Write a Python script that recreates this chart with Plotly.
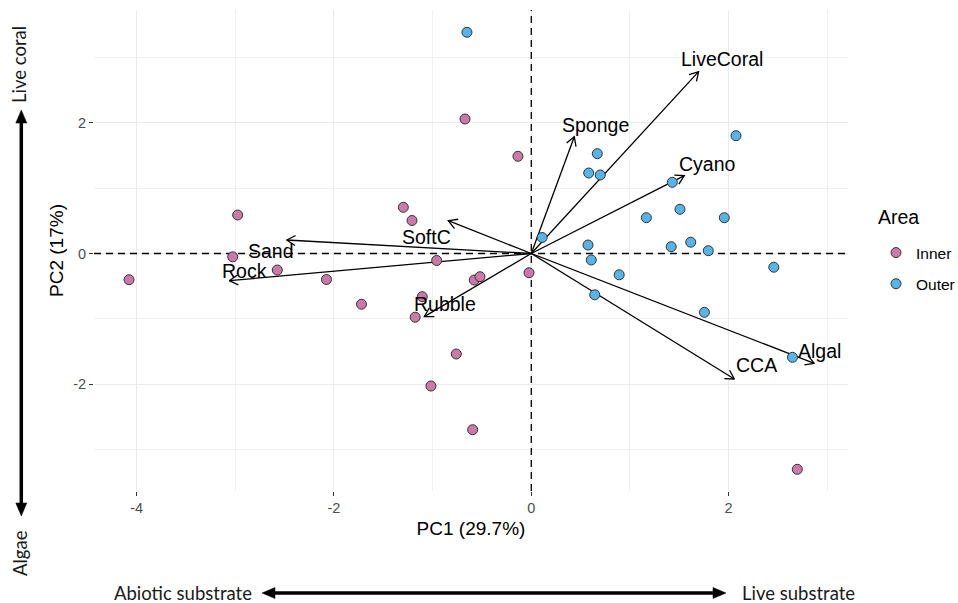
import numpy as np
import plotly.graph_objects as go

# PCA site scores by reef area
inner_pc1 = [-0.672, -0.135, -1.297, -1.209, -2.976, -3.026, -2.574, -4.077, -2.076, -1.721,
             -0.959, -0.578, -0.520, -0.023, -1.105, -1.177, -0.760, -1.017, -0.594, 2.696]
inner_pc2 = [2.059, 1.488, 0.707, 0.505, 0.589, -0.051, -0.253, -0.401, -0.398, -0.776,
             -0.107, -0.406, -0.355, -0.294, -0.661, -0.975, -1.538, -2.028, -2.697, -3.303]
outer_pc1 = [-0.652, 0.669, 0.582, 0.699, 2.075, 1.429, 1.166, 1.507, 1.956, 0.110,
             0.575, 0.608, 1.418, 1.616, 1.794, 0.891, 2.458, 0.643, 1.755, 2.647]
outer_pc2 = [3.386, 1.528, 1.232, 1.202, 1.803, 1.090, 0.548, 0.677, 0.548, 0.245,
             0.130, -0.099, 0.104, 0.173, 0.043, -0.326, -0.210, -0.632, -0.900, -1.589]

# Variable loadings (scaled for the biplot)
variables = ["LiveCoral", "Sponge", "Cyano", "SoftC", "Sand", "Rock", "Rubble", "CCA", "Algal"]
load_pc1 = [1.696, 0.436, 1.551, -0.841, -2.479, -3.061, -1.084, 2.058, 2.868]
load_pc2 = [2.783, 1.788, 1.191, 0.502, 0.207, -0.416, -0.967, -1.921, -1.681]

x_ticks = [-4, -2, 0, 2]
y_ticks = [-2, 0, 2]
x_tick_labels = ["-4", "-2", "0", "2"]
y_tick_labels = ["-2", "0", "2"]
x_minor = [-3, -1, 1, 3]
y_minor = [-3, -1, 1, 3]

areas = ["Inner", "Outer"]
area_colors = {"Inner": "#CC79A7", "Outer": "#56B4E9"}

# ---- layout geometry ----
W, H = 958, 603
M_L, M_R, M_T, M_B = 94, 110, 10, 112
PLOT_W = W - M_L - M_R
PLOT_H = H - M_T - M_B
X_RANGE = [-4.432, 3.210]
Y_RANGE = [-3.635, 3.727]
SX = PLOT_W / (X_RANGE[1] - X_RANGE[0])
SY = PLOT_H / (Y_RANGE[1] - Y_RANGE[0])

BASE_FONT = "Liberation Sans, Arial, sans-serif"
SIDE_FONT = "Lato, Open Sans, sans-serif"


def px(x):
    return (x - M_L) / PLOT_W


def py(y):
    return (H - M_B - y) / PLOT_H


fig = go.Figure()

# dashed reference lines through the origin
ref_line = dict(color="black", width=1.3, dash="7px,5px")
fig.add_trace(go.Scatter(x=[0, 0], y=Y_RANGE, mode="lines", line=ref_line,
                         hoverinfo="skip", showlegend=False))
fig.add_trace(go.Scatter(x=X_RANGE, y=[0, 0], mode="lines", line=ref_line,
                         hoverinfo="skip", showlegend=False))

# loading arrows with open heads
HEAD = 10
ax_, ay_ = [], []
for lx, ly in zip(load_pc1, load_pc2):
    ax_ += [0, lx, None]
    ay_ += [0, ly, None]
    ang = np.arctan2(ly * SY, lx * SX)
    barbs = []
    for da in (np.pi - np.pi / 6, np.pi + np.pi / 6):
        barbs.append((lx + HEAD * np.cos(ang + da) / SX, ly + HEAD * np.sin(ang + da) / SY))
    ax_ += [barbs[0][0], lx, barbs[1][0], None]
    ay_ += [barbs[0][1], ly, barbs[1][1], None]

fig.add_trace(go.Scatter(x=ax_, y=ay_, mode="lines", line=dict(color="black", width=1.3),
                         hoverinfo="skip", showlegend=False))

# site scores
for area, xs, ys in (("Inner", inner_pc1, inner_pc2), ("Outer", outer_pc1, outer_pc2)):
    fig.add_trace(go.Scatter(
        x=xs, y=ys, mode="markers", name=area, legendgroup=area,
        marker=dict(size=10, color=area_colors[area], line=dict(color="#333333", width=1)),
    ))

# variable labels, nudged off the arrow tips (pixels)
label_shift = {
    "LiveCoral": (23, 13), "Sponge": (21, 12), "Cyano": (23, 12), "SoftC": (-22, -16),
    "Sand": (-16, -11), "Rock": (15, 10), "Rubble": (21, 13), "CCA": (22, 14), "Algal": (5, 12),
}
for name, lx, ly in zip(variables, load_pc1, load_pc2):
    dx, dy = label_shift[name]
    fig.add_annotation(x=lx, y=ly, text=name, showarrow=False, xshift=dx, yshift=dy,
                       xanchor="center", yanchor="middle",
                       font=dict(family=BASE_FONT, size=19.5, color="black"))


# interpretive arrows outside the panel
def double_arrow(x0, y0, x1, y1, head_len=13, head_half=5.5, width=3.5):
    v = np.array([x1 - x0, y1 - y0], dtype=float)
    u = v / np.hypot(*v)
    n = np.array([-u[1], u[0]])
    a = np.array([x0, y0]) + u * head_len
    b = np.array([x1, y1]) - u * head_len
    fig.add_shape(type="line", xref="paper", yref="paper",
                  x0=px(a[0]), y0=py(a[1]), x1=px(b[0]), y1=py(b[1]),
                  line=dict(color="black", width=width))
    for tip, base in ((np.array([x0, y0]), a), (np.array([x1, y1]), b)):
        p1 = base + n * head_half
        p2 = base - n * head_half
        path = (f"M {px(tip[0])} {py(tip[1])} L {px(p1[0])} {py(p1[1])} "
                f"L {px(p2[0])} {py(p2[1])} Z")
        fig.add_shape(type="path", xref="paper", yref="paper", path=path,
                      fillcolor="black", line=dict(color="black", width=0.5))


double_arrow(21.3, 110, 21.3, 516)
double_arrow(262, 593, 726, 593)

side_font = dict(family=SIDE_FONT, size=18.5, color="#1a1a1a")
side_text = [("Live coral", 19, 65, -90), ("Algae", 20, 553, -90),
             ("Abiotic substrate", 182.5, 593, 0), ("Live substrate", 798.5, 593, 0)]
for txt, tx, ty, rot in side_text:
    fig.add_annotation(xref="paper", yref="paper", x=px(tx), y=py(ty), text=txt,
                       textangle=rot, showarrow=False, xanchor="center", yanchor="middle",
                       font=side_font)

# legend heading
fig.add_annotation(xref="paper", yref="paper", x=px(876), y=py(217), text="Area",
                   showarrow=False, xanchor="left", yanchor="middle",
                   font=dict(family=BASE_FONT, size=19.5, color="black"))

axis_common = dict(
    showgrid=True, gridcolor="#EBEBEB", gridwidth=1.3,
    zeroline=False, showline=False,
    ticks="outside", ticklen=4, tickwidth=1.3, tickcolor="#333333",
    tickfont=dict(family=BASE_FONT, size=14.5, color="#4D4D4D"),
    title_font=dict(family=BASE_FONT, size=19, color="black"),
)

fig.update_xaxes(range=X_RANGE, tickmode="array", tickvals=x_ticks, ticktext=x_tick_labels,
                 minor=dict(tickmode="array", tickvals=x_minor, showgrid=True,
                            gridcolor="#F0F0F0", gridwidth=1, ticks=""),
                 title=dict(text="PC1 (29.7%)", standoff=6), **axis_common)
fig.update_yaxes(range=Y_RANGE, tickmode="array", tickvals=y_ticks, ticktext=y_tick_labels,
                 minor=dict(tickmode="array", tickvals=y_minor, showgrid=True,
                            gridcolor="#F0F0F0", gridwidth=1, ticks=""),
                 title=dict(text="PC2 (17%)", standoff=4), **axis_common)

fig.update_layout(
    width=W, height=H, autosize=False,
    margin=dict(l=M_L, r=M_R, t=M_T, b=M_B, autoexpand=False),
    plot_bgcolor="white", paper_bgcolor="white",
    legend=dict(
        font=dict(family=BASE_FONT, size=15.5, color="black"),
        x=px(876), y=py(236), xanchor="left", yanchor="top",
        tracegroupgap=8, bgcolor="rgba(0,0,0,0)",
    ),
    showlegend=True,
)

fig.write_html("out.html")
